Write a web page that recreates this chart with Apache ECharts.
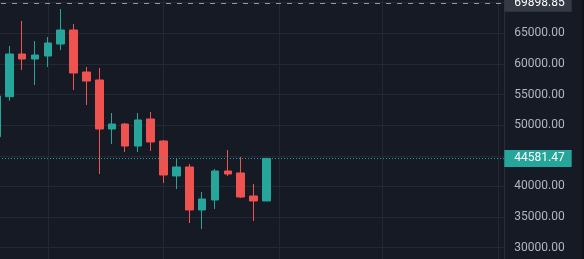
<!DOCTYPE html>
<html><head><meta charset="utf-8">
<script src="https://cdn.jsdelivr.net/npm/echarts@6/dist/echarts.min.js"></script>
<style>html,body{margin:0;padding:0;background:#161a25;}#c{width:584px;height:259px;}</style>
</head><body><div id="c"></div>
<script>
// 40 weekly slots; only the first 22 hold candles
const categories = ['W01','W02','W03','W04','W05','W06','W07','W08','W09','W10',
  'W11','W12','W13','W14','W15','W16','W17','W18','W19','W20',
  'W21','W22','W23','W24','W25','W26','W27','W28','W29','W30',
  'W31','W32','W33','W34','W35','W36','W37','W38','W39','W40'];
const opens  = [48120, 54650, 61620, 60800, 61290, 63250, 65540, 58680, 57380, 49380, 50190, 46600, 51010, 47420, 41710, 43180, 36160, 37790, 42520, 42200, 38440, 37630];
const closes = [54770, 61620, 60800, 61460, 63420, 65540, 58520, 57210, 49380, 50190, 46600, 50850, 47260, 41870, 43180, 36160, 37950, 42520, 42030, 38280, 37630, 44581.47];
const lows   = [47500, 54000, 59010, 56560, 59500, 62270, 55740, 53300, 42030, 46930, 45620, 45620, 45790, 40560, 39580, 34030, 33050, 36320, 41710, 38120, 34360, 37630];
const highs  = [55400, 62930, 67010, 63740, 64400, 68970, 66520, 59500, 59340, 51990, 50360, 51990, 52150, 47580, 44640, 43660, 39090, 42850, 45950, 44810, 40400, 44581.47];
const timeGridIdx = [4, 13, 22, 30, 39];
const refLine = 69898.85;
const lastPrice = 44581.47;

const chart = echarts.init(document.getElementById('c'), null, {renderer: 'canvas'});
const candleData = opens.map((o, i) => [o, closes[i], lows[i], highs[i]]);
const gridColor = '#242834';
chart.setOption({
  backgroundColor: '#161a25',
  animation: false,
  grid: {left: -9.975, right: 79.7, top: -27.96, bottom: -19.34, containLabel: false, outerBoundsMode: 'none'},
  xAxis: {
    type: 'category', data: categories, boundaryGap: true,
    axisLine: {show: false}, axisTick: {show: false}, axisLabel: {show: false}, splitLine: {show: false}
  },
  yAxis: {
    type: 'value', position: 'right', min: 25000, max: 75000, interval: 5000,
    axisLine: {show: true, lineStyle: {color: '#2a2e39'}}, axisTick: {show: false},
    axisLabel: {color: '#b2b5be', fontFamily: 'Roboto', fontSize: 12, margin: 10,
      showMinLabel: false, showMaxLabel: false, formatter: v => v.toFixed(2)},
    splitLine: {show: true, lineStyle: {color: gridColor, width: 1}}
  },
  graphic: [{type: 'rect', silent: true, z: 100, shape: {x: 582, y: 0, width: 2, height: 259}, style: {fill: '#10131b'}}],
  series: [
    {
      type: 'line', data: [], z: 0, silent: true,
      markLine: {
        z: 0, symbol: ['none', 'none'], silent: true, animation: false,
        label: {show: false},
        lineStyle: {color: gridColor, type: 'solid', width: 1},
        data: timeGridIdx.map(i => ({xAxis: i}))
      }
    },
    {
      type: 'candlestick', z: 3, data: candleData, barWidth: 8,
      itemStyle: {color: '#26a69a', color0: '#ef5350', borderColor: '#26a69a', borderColor0: '#ef5350', borderWidth: 1},
      markLine: {
        z: 5, symbol: ['none', 'none'], silent: true, animation: false,
        label: {show: true, position: 'end', distance: 0, fontFamily: 'Roboto', fontSize: 12,
          padding: [3, 7, 2, 10], formatter: p => Number(p.value).toFixed(2)},
        data: [
          {yAxis: refLine, lineStyle: {color: '#9598a1', type: [5, 6], width: 1},
           label: {backgroundColor: '#363a45', color: '#ffffff'}},
          {yAxis: lastPrice, lineStyle: {color: '#26a69a', type: [1, 2], width: 1},
           label: {backgroundColor: '#26a69a', color: '#ffffff'}}
        ]
      }
    }
  ]
});
</script></body></html>
